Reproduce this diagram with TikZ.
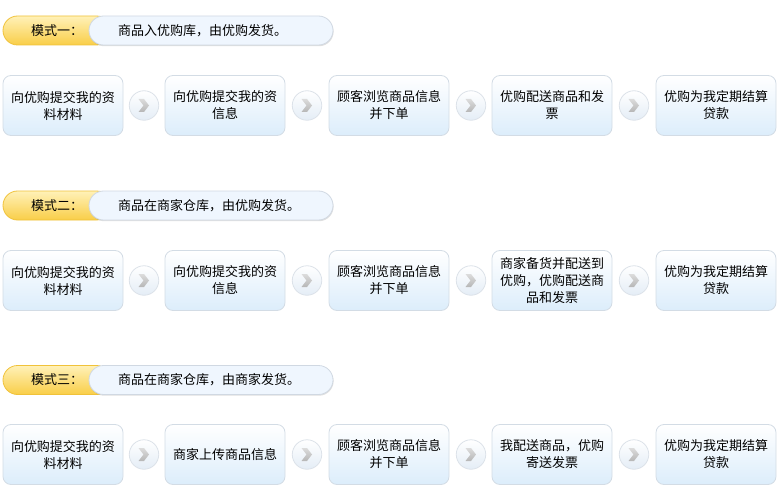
\documentclass[tikz,border=0pt]{standalone}
\usepackage{fontspec}
\setmainfont{Noto Sans CJK SC}
\usetikzlibrary{shadows,calc}
\definecolor{boxline}{HTML}{D3DCE5}
\definecolor{boxbot}{HTML}{DCEDFB}
\definecolor{cirline}{HTML}{DCE2E9}
\definecolor{cirbot}{HTML}{E4EDF6}
\definecolor{pillblue}{HTML}{EFF6FE}
\definecolor{pillline}{HTML}{D0D8E2}
\definecolor{ytop}{HTML}{FFF1B8}
\definecolor{ybot}{HTML}{F9CE48}
\definecolor{yline}{HTML}{F0C23A}
\definecolor{chevtop}{HTML}{DCDCDC}
\definecolor{chevbot}{HTML}{B6B6B6}
\tikzset{
  stepbox/.style={rectangle, rounded corners=8pt, draw=boxline, line width=0.8pt,
    top color=white, bottom color=boxbot, minimum width=120pt, minimum height=60pt,
    align=center, inner sep=2pt, font=\fontsize{13}{17}\selectfont},
  nextcirc/.style={circle, draw=cirline, line width=0.8pt, top color=white, bottom color=cirbot,
    minimum size=29.5pt, inner sep=0pt},
  ypill/.style={rectangle, rounded corners=14.5pt, draw=yline, line width=0.8pt,
    top color=ytop, bottom color=ybot, minimum width=108pt, minimum height=29pt,
    inner sep=0pt, font=\fontsize{13}{15}\selectfont},
  bpill/.style={rectangle, rounded corners=14.5pt, draw=pillline, line width=0.8pt,
    fill=pillblue, text width=186pt, align=left, inner xsep=29pt, inner ysep=0pt,
    minimum height=29pt, font=\fontsize{13}{15}\selectfont,
    drop shadow={shadow xshift=0.6pt, shadow yshift=-1.2pt, opacity=0.25, fill=gray}},
  chevstyle/.style={top color=chevtop, bottom color=chevbot, draw=none},
}
\newcommand{\chevron}[1]{\path[chevstyle] ($(#1)+(-5.5,-6.5)$) -- ($(#1)+(0,-6.5)$) -- ($(#1)+(5,0)$) -- ($(#1)+(0,6.5)$) -- ($(#1)+(-5.5,6.5)$) -- ($(#1)+(-0.5,0)$) -- cycle;}
\begin{document}
\begin{tikzpicture}[x=1pt,y=-1pt]
\useasboundingbox (0,0) rectangle (782,492);
% headers
\node[ypill] (y1) at (57,30.5) {模式一：};
\node[bpill] (b1) at (211,30.5) {商品入优购库，由优购发货。};
\node[ypill] (y2) at (57,205.5) {模式二：};
\node[bpill] (b2) at (211,205.5) {商品在商家仓库，由优购发货。};
\node[ypill] (y3) at (57,380) {模式三：};
\node[bpill] (b3) at (211,380) {商品在商家仓库，由商家发货。};
% row 1
\node[stepbox] (a1) at (63,105.5) {向优购提交我的资\\料材料};
\node[stepbox] (a2) at (225,105.5) {向优购提交我的资\\信息};
\node[stepbox] (a3) at (389,105.5) {顾客浏览商品信息\\并下单};
\node[stepbox] (a4) at (552,105.5) {优购配送商品和发\\票};
\node[stepbox] (a5) at (716,105.5) {优购为我定期结算\\贷款};
% row 2
\node[stepbox] (c1) at (63,280.5) {向优购提交我的资\\料材料};
\node[stepbox] (c2) at (225,280.5) {向优购提交我的资\\信息};
\node[stepbox] (c3) at (389,280.5) {顾客浏览商品信息\\并下单};
\node[stepbox] (c4) at (552,280.5) {商家备货并配送到\\优购，优购配送商\\品和发票};
\node[stepbox] (c5) at (716,280.5) {优购为我定期结算\\贷款};
% row 3
\node[stepbox] (d1) at (63,454.5) {向优购提交我的资\\料材料};
\node[stepbox] (d2) at (225,454.5) {商家上传商品信息};
\node[stepbox] (d3) at (389,454.5) {顾客浏览商品信息\\并下单};
\node[stepbox] (d4) at (552,454.5) {我配送商品，优购\\寄送发票};
\node[stepbox] (d5) at (716,454.5) {优购为我定期结算\\贷款};
% arrow circles
\foreach \r/\yy in {a/105.5,c/280.5,d/454.5}{
  \foreach \i/\xx in {1/144,2/307,3/471,4/634}{
    \node[nextcirc] (\r n\i) at (\xx,\yy) {};
    \chevron{\r n\i}
  }
}
\end{tikzpicture}
\end{document}
